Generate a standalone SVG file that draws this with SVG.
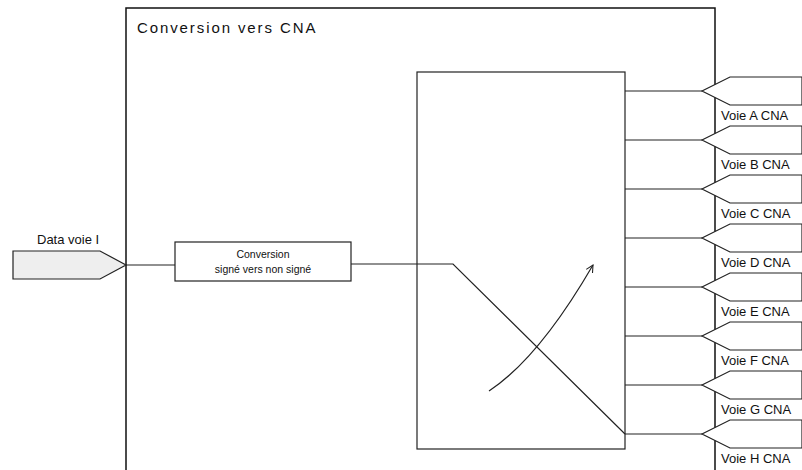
<svg xmlns="http://www.w3.org/2000/svg" width="802" height="470" viewBox="0 0 802 470">
<style>
.ln{stroke:#222;stroke-width:1.2;fill:none}
.frame{stroke:#111;stroke-width:1.5;fill:none}
.port{stroke:#222;stroke-width:1.2;fill:#fff}
.lbl{font-family:"Liberation Sans",Arial,sans-serif;font-size:13px;fill:#111}
.small{font-family:"Liberation Sans",Arial,sans-serif;font-size:10.5px;fill:#111}
.title{font-family:"Liberation Sans",Arial,sans-serif;font-size:15px;fill:#111;letter-spacing:1.9px}
</style>
<defs>
<marker id="open" viewBox="0 0 10 10" refX="9" refY="5" markerWidth="9" markerHeight="9" orient="auto" markerUnits="userSpaceOnUse">
<path d="M1,1 L9,5 L1,9" fill="none" stroke="#222" stroke-width="1.2"/>
</marker>
</defs>
<rect width="802" height="470" fill="#fff"/>
<g id="frame">
<path class="frame" d="M126,470 V8 H715 V470"/>
<text class="title" x="137" y="33">Conversion vers CNA</text>
</g>
<g id="connectors">
<line class="ln" x1="126" y1="265" x2="175" y2="265"/>
<polyline class="ln" points="351,264 453,264 625,434"/>
<path class="ln" d="M489,391 Q539,358 593,265" marker-end="url(#open)"/>
<line class="ln" x1="625" y1="91" x2="702" y2="91"/>
<line class="ln" x1="625" y1="140" x2="702" y2="140"/>
<line class="ln" x1="625" y1="189" x2="702" y2="189"/>
<line class="ln" x1="625" y1="238" x2="702" y2="238"/>
<line class="ln" x1="625" y1="287" x2="702" y2="287"/>
<line class="ln" x1="625" y1="336" x2="702" y2="336"/>
<line class="ln" x1="625" y1="385" x2="702" y2="385"/>
<line class="ln" x1="625" y1="434" x2="702" y2="434"/>
</g>
<g id="input">
<polygon points="13,251 100,251 126,265 100,279 13,279" fill="#eeeeee" stroke="#222" stroke-width="1.2"/>
<text class="lbl" x="37" y="244">Data voie I</text>
</g>
<g id="conv">
<rect x="175" y="242" width="176" height="39" fill="#fff" stroke="#222" stroke-width="1.2"/>
<text class="small" x="263" y="258" text-anchor="middle">Conversion</text>
<text class="small" x="263" y="273" text-anchor="middle">signé vers non signé</text>
</g>
<g id="switch">
<rect x="417" y="72" width="208" height="377" fill="none" stroke="#222" stroke-width="1.2"/>
</g>
<g id="portA"><polygon class="port" points="802,77 730,77 702,91 730,105 802,105"/><text class="lbl" x="721" y="120">Voie A CNA</text></g>
<g id="portB"><polygon class="port" points="802,126 730,126 702,140 730,154 802,154"/><text class="lbl" x="721" y="169">Voie B CNA</text></g>
<g id="portC"><polygon class="port" points="802,175 730,175 702,189 730,203 802,203"/><text class="lbl" x="721" y="218">Voie C CNA</text></g>
<g id="portD"><polygon class="port" points="802,224 730,224 702,238 730,252 802,252"/><text class="lbl" x="721" y="267">Voie D CNA</text></g>
<g id="portE"><polygon class="port" points="802,273 730,273 702,287 730,301 802,301"/><text class="lbl" x="721" y="316">Voie E CNA</text></g>
<g id="portF"><polygon class="port" points="802,322 730,322 702,336 730,350 802,350"/><text class="lbl" x="721" y="365">Voie F CNA</text></g>
<g id="portG"><polygon class="port" points="802,371 730,371 702,385 730,399 802,399"/><text class="lbl" x="721" y="414">Voie G CNA</text></g>
<g id="portH"><polygon class="port" points="802,420 730,420 702,434 730,448 802,448"/><text class="lbl" x="721" y="463">Voie H CNA</text></g>
</svg>
